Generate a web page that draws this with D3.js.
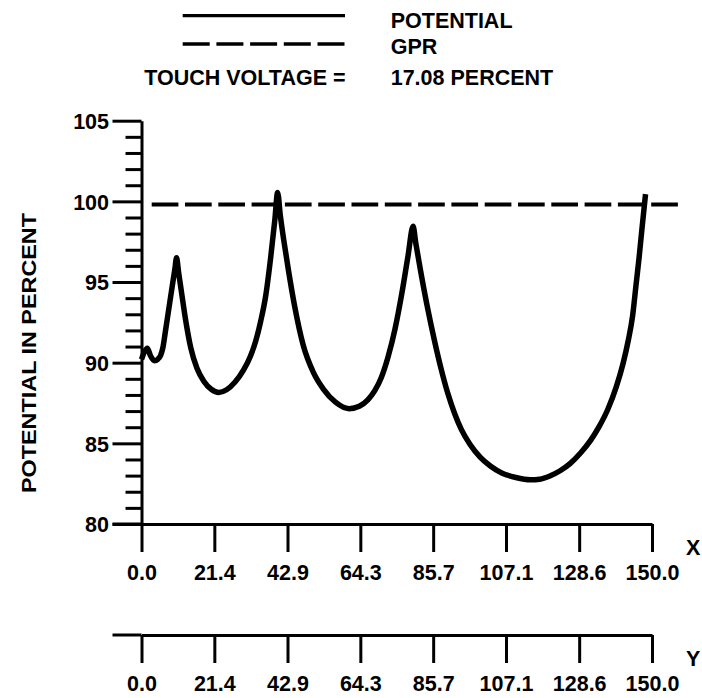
<!DOCTYPE html>
<html>
<head>
<meta charset="utf-8">
<script src="https://cdn.jsdelivr.net/npm/d3@7"></script>
<style>
  html, body { margin: 0; padding: 0; background: #fff; }
  svg { display: block; }
  text { font-family: "Liberation Sans", Arial, Helvetica, sans-serif; font-weight: bold; fill: #000; }
</style>
</head>
<body>
<svg id="chart" width="702" height="698"></svg>
<script>
// ---- data ----
const potentialX = [0, 0.8, 1.7, 2.6, 3.8, 4.8, 5.6, 6.3, 7.0, 8.0, 9.0, 9.8, 10.3, 10.9, 11.8, 13.0, 14.5, 16.3, 18.3, 20.5, 22.7, 25.0, 27.5, 30.0, 32.0, 33.5, 35.0, 36.5, 38.0, 39.2, 40.0, 40.8, 41.8, 43.2, 45.0, 47.5, 50.5, 53.5, 57.0, 61.0, 64.0, 66.5, 68.5, 70.5, 72.5, 74.5, 76.5, 78.3, 79.8, 80.6, 82.0, 84.0, 86.0, 88.0, 90.0, 92.0, 94.0, 96.5, 99.5, 102.5, 106.0, 110.0, 114.3, 117.0, 120.0, 123.0, 126.0, 129.0, 132.0, 134.5, 137.0, 139.5, 141.5, 143.0, 144.3, 145.3, 146.2, 147.0, 148.1];
const potentialV = [90.2, 90.65, 90.9, 90.45, 90.12, 90.22, 90.45, 90.95, 91.9, 93.3, 94.7, 95.8, 96.5, 95.6, 94.3, 92.6, 90.9, 89.65, 88.85, 88.35, 88.15, 88.32, 88.8, 89.55, 90.4, 91.3, 92.55, 94.15, 96.6, 98.9, 100.55, 99.1, 97.6, 95.7, 93.5, 91.1, 89.4, 88.35, 87.55, 87.15, 87.3, 87.7, 88.25, 89.1, 90.4, 92.1, 94.3, 96.6, 98.45, 97.4, 95.7, 93.45, 91.45, 89.65, 88.1, 86.85, 85.85, 84.95, 84.15, 83.6, 83.15, 82.88, 82.74, 82.78, 82.98, 83.3, 83.76, 84.4, 85.2, 86.05, 87.1, 88.5, 89.95, 91.35, 92.9, 94.8, 96.5, 98.2, 100.45];
const gprValue = 99.8;
const xTickValues = [0, 21.4, 42.9, 64.3, 85.7, 107.1, 128.6, 150.0];
const xTickLabels = ["0.0", "21.4", "42.9", "64.3", "85.7", "107.1", "128.6", "150.0"];
const yTickValues = d3.range(80, 106, 1);
const yMajorLabels = [80, 85, 90, 95, 100, 105];
const legendLabels = ["POTENTIAL", "GPR"];
const touchLabel = "TOUCH VOLTAGE =";
const touchValue = "17.08 PERCENT";
const yTitle = "POTENTIAL IN PERCENT";

// ---- layout ----
const svg = d3.select("#chart");
const x = d3.scaleLinear().domain([0, 150]).range([141.5, 652]);
const y = d3.scaleLinear().domain([80, 105]).range([524, 120.7]);
const axisW = 3;
const tickFont = "21.5px";

// Y axis
const yAxis = d3.axisLeft(y)
  .tickValues(yTickValues)
  .tickSize(16)
  .tickSizeOuter(0)
  .tickFormat(d => yMajorLabels.includes(d) ? String(d) : "");
const gy = svg.append("g").attr("transform", `translate(${x(0)},0)`).call(yAxis);
gy.select(".domain").attr("stroke", "#000").attr("stroke-width", axisW);
gy.selectAll(".tick line").attr("stroke", "#000").attr("stroke-width", axisW)
  .attr("x2", d => yMajorLabels.includes(d) ? -29 : -16);
gy.selectAll(".tick text")
  .attr("x", -32.5).attr("dy", "0.36em")
  .style("font-size", tickFont).style("font-family", "'Liberation Sans', Arial, sans-serif").style("font-weight", "bold");

// X axes (two identical)
function drawXAxis(yPos, name) {
  const ax = d3.axisBottom(x).tickValues(xTickValues).tickSize(28).tickSizeOuter(0)
    .tickFormat((d, i) => xTickLabels[i]);
  const g = svg.append("g").attr("transform", `translate(0,${yPos})`).call(ax);
  g.select(".domain").attr("stroke", "#000").attr("stroke-width", axisW);
  g.selectAll(".tick line").attr("stroke", "#000").attr("stroke-width", axisW);
  g.selectAll(".tick text").attr("y", 56).attr("dy", 0)
    .style("font-size", tickFont).style("font-family", "'Liberation Sans', Arial, sans-serif").style("font-weight", "bold");
  g.append("line").attr("x1", x(0) - 29).attr("x2", x(0)).attr("y1", 0).attr("y2", 0)
    .attr("stroke", "#000").attr("stroke-width", axisW);
  svg.append("text").attr("x", 686).attr("y", yPos + 31).style("font-size", "21.5px").text(name);
}
drawXAxis(524, "X");
drawXAxis(635, "Y");

// Y title
svg.append("text")
  .attr("transform", `translate(36,353) rotate(-90)`)
  .attr("text-anchor", "middle")
  .attr("textLength", 280).attr("lengthAdjust", "spacingAndGlyphs")
  .style("font-size", "20.5px")
  .text(yTitle);

// GPR dashed line
svg.append("line")
  .attr("x1", 151.7).attr("x2", 678)
  .attr("y1", y(gprValue)).attr("y2", y(gprValue))
  .attr("stroke", "#000").attr("stroke-width", 4)
  .attr("stroke-dasharray", "26.7 6.6");

// Potential curve
const pts = potentialX.map((d, i) => [d, potentialV[i]]);
svg.append("path")
  .datum(pts)
  .attr("fill", "none").attr("stroke", "#000").attr("stroke-width", 5.5)
  .attr("stroke-linejoin", "round").attr("stroke-linecap", "butt")
  .attr("d", d3.line().x(d => x(d[0])).y(d => y(d[1])).curve(d3.curveMonotoneX));

// Legend
svg.append("line").attr("x1", 182.7).attr("x2", 345).attr("y1", 15.7).attr("y2", 15.7)
  .attr("stroke", "#000").attr("stroke-width", 3.3);
svg.append("line").attr("x1", 182.7).attr("x2", 345).attr("y1", 44).attr("y2", 44)
  .attr("stroke", "#000").attr("stroke-width", 3.3).attr("stroke-dasharray", "27 6.7");
svg.append("text").attr("x", 390.7).attr("y", 28.3).style("font-size", "21.5px").text(legendLabels[0]);
svg.append("text").attr("x", 390.7).attr("y", 54.3).style("font-size", "21.5px").text(legendLabels[1]);
svg.append("text").attr("x", 345.5).attr("y", 85).attr("text-anchor", "end").style("font-size", "21.5px").text(touchLabel);
svg.append("text").attr("x", 390.7).attr("y", 85).style("font-size", "21.5px").text(touchValue);
</script>
</body>
</html>
